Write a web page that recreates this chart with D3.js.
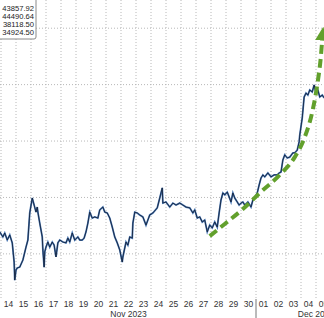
<!DOCTYPE html>
<html lang="en">
<head>
<meta charset="UTF-8">
<title>BTC intraday</title>
<script src="https://d3js.org/d3.v7.min.js"></script>
<style>
    body { margin: 0; background: #fff; }
    text { font-family: "Liberation Sans", Arial, sans-serif; }
</style>
</head>
<body>
<script>
    // hours after 2023-11-14 00:00, and price
    const hours = [-2, 3, 6, 10, 14, 18, 21, 22, 24, 26, 30, 35, 40, 43, 46, 50, 53, 56, 58, 59,
        62, 66, 67, 69, 70, 72, 75, 78, 82, 85, 88, 91, 94, 99, 104, 107, 110, 114, 118, 123,
        126, 130, 133, 136, 139, 142, 146, 150, 155, 158, 163, 166, 170, 174, 178, 182, 186, 190, 194, 195,
        200, 203, 206, 210, 211, 214, 218, 222, 227, 232, 235, 238, 243, 250, 254, 258, 259, 264, 270, 275,
        280, 286, 291, 296, 302, 307, 310, 314, 318, 322, 326, 330, 334, 338, 342, 346, 349, 352, 355, 358,
        362, 365, 368, 371, 374, 378, 381, 384, 387, 390, 395, 400, 403, 406, 410, 413, 416, 419, 422, 427,
        432, 437, 442, 445, 448, 451, 454, 458, 462, 467, 470, 474, 477, 478, 482, 485, 488, 491, 494, 498,
        501, 504, 507, 510, 514, 517];
    const prices = [36780, 36600, 36740, 36490, 36670, 36390, 35710, 35070, 35430, 35500, 35530, 35780, 36240, 36490, 37450, 37980, 37730, 37480, 37660, 37480,
        37090, 36600, 36140, 35530, 36070, 36240, 36420, 36240, 36420, 36310, 35890, 36390, 36490, 36420, 36390, 36560, 36420, 36740, 36490, 36600,
        36490, 36490, 36560, 36780, 37090, 37480, 37270, 37310, 37270, 37560, 37660, 37480, 37450, 37270, 36950, 36600, 36390, 36140, 35710, 35890,
        36420, 36310, 36600, 36560, 37090, 37480, 37450, 37380, 37310, 37020, 37200, 37380, 37450, 37630, 37980, 38340, 37800, 37840, 37660, 37800,
        37730, 37800, 37730, 37660, 37630, 37450, 37560, 37270, 37310, 37130, 37200, 36780, 37020, 36920, 37130, 36950, 37450, 37910, 38160, 38090,
        38190, 38020, 37840, 38160, 37980, 37840, 37730, 37800, 37840, 37730, 37840, 37660, 37910, 37980, 38160, 38440, 38690, 38800, 38730, 38870,
        38730, 38800, 38800, 38870, 38900, 39330, 39510, 39400, 39430, 39580, 39580, 39680, 39970, 40210, 40820, 41560, 41700, 41630, 41810, 41740,
        41990, 41700, 41810, 41560, 41630, 41530];

    // hand drawn trend arrow
    const trendHours = [334, 358, 387, 414, 446, 470, 486, 498, 506, 512, 514];
    const trendPrices = [36630, 37060, 37590, 38160, 38800, 39430, 40140, 41030, 41990, 43050, 43600];

    const gridPrices = [36000, 38000, 40000, 42000, 44000];
    const dayLabels = ["14", "15", "16", "17", "18", "19", "20", "21", "22", "23", "24", "25", "26", "27", "28", "29", "30",
        "01", "02", "03", "04", "05"];
    const legendValues = ["43857.92", "44490.64", "38118.50", "34924.50"];

    const width = 324, height = 318;
    const plotBottom = 299;
    const start = new Date(2023, 10, 14);

    const svg = d3.select("body").append("svg")
        .attr("width", width)
        .attr("height", height);

    const x = d3.scaleTime()
        .domain([start, new Date(2023, 11, 6)])
        .range([1, 331]);
    const y = d3.scaleLinear()
        .domain([34400, 45000])
        .range([plotBottom, 0]);

    // grid
    const days = d3.timeDay.range(start, new Date(2023, 11, 7));
    svg.append("g").selectAll("line")
        .data(days)
        .enter().append("line")
        .attr("x1", d => x(d)).attr("x2", d => x(d))
        .attr("y1", 0).attr("y2", plotBottom)
        .attr("stroke", "#b8b8b8")
        .attr("stroke-dasharray", "1,2");
    svg.append("g").selectAll("line")
        .data(gridPrices)
        .enter().append("line")
        .attr("x1", 0).attr("x2", width)
        .attr("y1", d => y(d)).attr("y2", d => y(d))
        .attr("stroke", "#b8b8b8")
        .attr("stroke-dasharray", "1,2");

    // price line
    const pts = hours.map((h, i) => [d3.timeMinute.offset(start, h * 60), prices[i]]);
    const line = d3.line().x(d => x(d[0])).y(d => y(d[1]));
    svg.append("path")
        .datum(pts)
        .attr("fill", "none")
        .attr("stroke", "#4a78b4")
        .attr("stroke-width", 1.8)
        .attr("d", line);
    svg.append("path")
        .datum(pts)
        .attr("fill", "none")
        .attr("stroke", "#0f1a30")
        .attr("stroke-width", 0.8)
        .attr("d", line);

    // trend arrow
    svg.append("defs").append("marker")
        .attr("id", "head")
        .attr("viewBox", "0 -6 12 12")
        .attr("refX", 1).attr("refY", 0)
        .attr("markerUnits", "userSpaceOnUse")
        .attr("markerWidth", 14).attr("markerHeight", 14)
        .attr("orient", "auto")
        .append("path")
        .attr("d", "M0,-6L12,0L0,6Z")
        .attr("fill", "#62a02c");
    const trend = trendHours.map((h, i) => [d3.timeHour.offset(start, h), trendPrices[i]]);
    svg.append("path")
        .datum(trend)
        .attr("fill", "none")
        .attr("stroke", "#62a02c")
        .attr("stroke-width", 4)
        .attr("stroke-dasharray", "9,5")
        .attr("marker-end", "url(#head)")
        .attr("d", d3.line().curve(d3.curveMonotoneX).x(d => x(d[0])).y(d => y(d[1])));

    // x axis labels
    svg.append("g").selectAll("text")
        .data(dayLabels)
        .enter().append("text")
        .attr("x", (d, i) => x(d3.timeHour.offset(days[i], 12)))
        .attr("y", 307)
        .attr("text-anchor", "middle")
        .attr("font-size", 8.5)
        .attr("fill", "#333")
        .text(d => d);
    svg.append("line")
        .attr("x1", x(new Date(2023, 11, 1))).attr("x2", x(new Date(2023, 11, 1)))
        .attr("y1", plotBottom).attr("y2", height)
        .attr("stroke", "#777");
    svg.append("text")
        .attr("x", x(new Date(2023, 10, 22, 12)))
        .attr("y", 317)
        .attr("text-anchor", "middle")
        .attr("font-size", 8.5)
        .attr("fill", "#333")
        .text("Nov 2023");
    svg.append("text")
        .attr("x", x(new Date(2023, 11, 5)))
        .attr("y", 317)
        .attr("text-anchor", "middle")
        .attr("font-size", 8.5)
        .attr("fill", "#333")
        .text("Dec 2023");

    // legend box
    svg.append("rect")
        .attr("x", -2).attr("y", -2)
        .attr("width", 38).attr("height", 41)
        .attr("rx", 2)
        .attr("fill", "#fff")
        .attr("stroke", "#8a8a8a");
    svg.append("g").selectAll("text")
        .data(legendValues)
        .enter().append("text")
        .attr("x", 34)
        .attr("y", (d, i) => 10.5 + i * 8.3)
        .attr("text-anchor", "end")
        .attr("font-size", 7.6)
        .attr("fill", "#222")
        .text(d => d);
</script>
</body>
</html>
